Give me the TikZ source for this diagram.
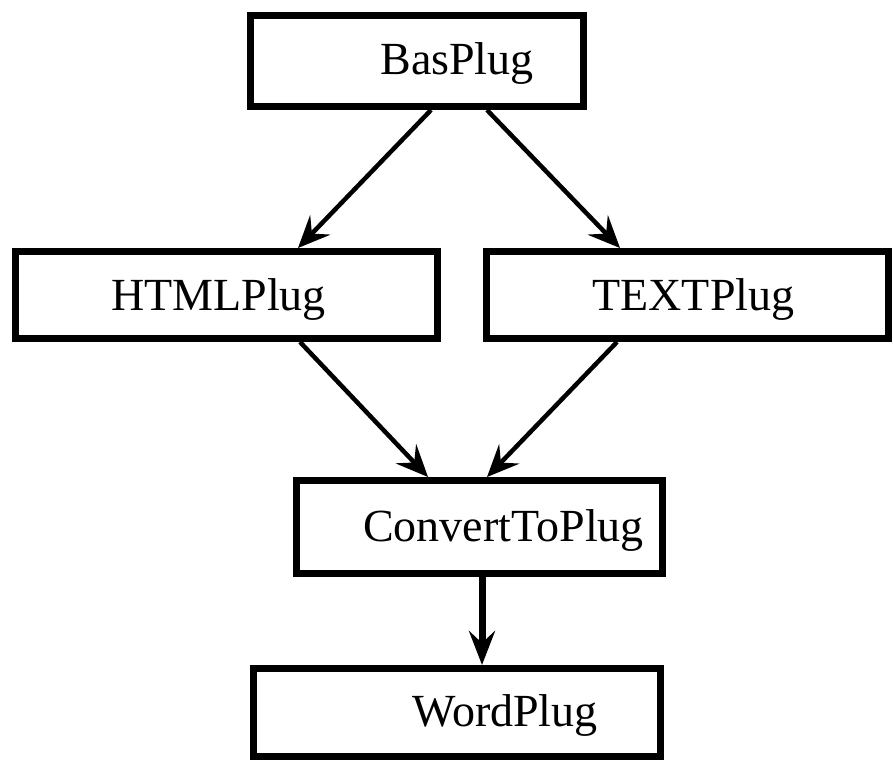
\documentclass[tikz,border=0pt]{standalone}
\usepackage{fontspec}
\setmainfont{Liberation Serif}
\usetikzlibrary{arrows.meta}
\begin{document}
\begin{tikzpicture}[x=1pt,y=-1pt,
  plugbox/.style={draw=black, line width=7pt, fill=white, inner sep=0pt},
  plugtext/.style={font=\fontsize{46}{50}\selectfont, inner sep=0pt, anchor=base},
  flow/.style={draw=black, line width=4.5pt,
    -{Stealth[length=32pt, width=28pt, inset=12pt]}},
  mainflow/.style={flow, line width=7pt,
    -{Stealth[length=34pt, width=26pt, inset=12pt]}}]
  \useasboundingbox (0,0) rectangle (893,763);

  % plug-in boxes
  \node[plugbox, minimum width=333pt, minimum height=91pt] (bas)  at (417,61) {};
  \node[plugbox, minimum width=422pt, minimum height=87pt] (html) at (226.5,295) {};
  \node[plugbox, minimum width=402pt, minimum height=87pt] (text) at (687.5,295) {};
  \node[plugbox, minimum width=366pt, minimum height=93pt] (conv) at (479.5,527) {};
  \node[plugbox, minimum width=407pt, minimum height=88pt] (word) at (457,712.5) {};

  % box captions
  \node[plugtext] (basl)  at ([xshift=40pt, yshift=-13pt]bas.center)  {BasPlug};
  \node[plugtext] (htmll) at ([xshift=-8pt, yshift=-15pt]html.center) {HTMLPlug};
  \node[plugtext] (textl) at ([xshift=6pt, yshift=-15pt]text.center)  {TEXTPlug};
  \node[plugtext] (convl) at ([xshift=24pt, yshift=-14pt]conv.center) {ConvertToPlug};
  \node[plugtext] (wordl) at ([xshift=48pt, yshift=-14pt]word.center) {WordPlug};

  % inheritance arrows
  \draw[flow] ([xshift=14pt]bas.south) -- ([xshift=71.5pt]html.north);
  \draw[flow] ([xshift=70pt]bas.south) -- ([xshift=-67.5pt]text.north);
  \draw[flow] ([xshift=73.5pt]html.south) -- ([xshift=-51.5pt]conv.north);
  \draw[flow] ([xshift=-70.5pt]text.south) -- ([xshift=7.5pt]conv.north);
  \draw[mainflow] ([xshift=2.5pt]conv.south) -- ([xshift=25pt]word.north);
\end{tikzpicture}
\end{document}
